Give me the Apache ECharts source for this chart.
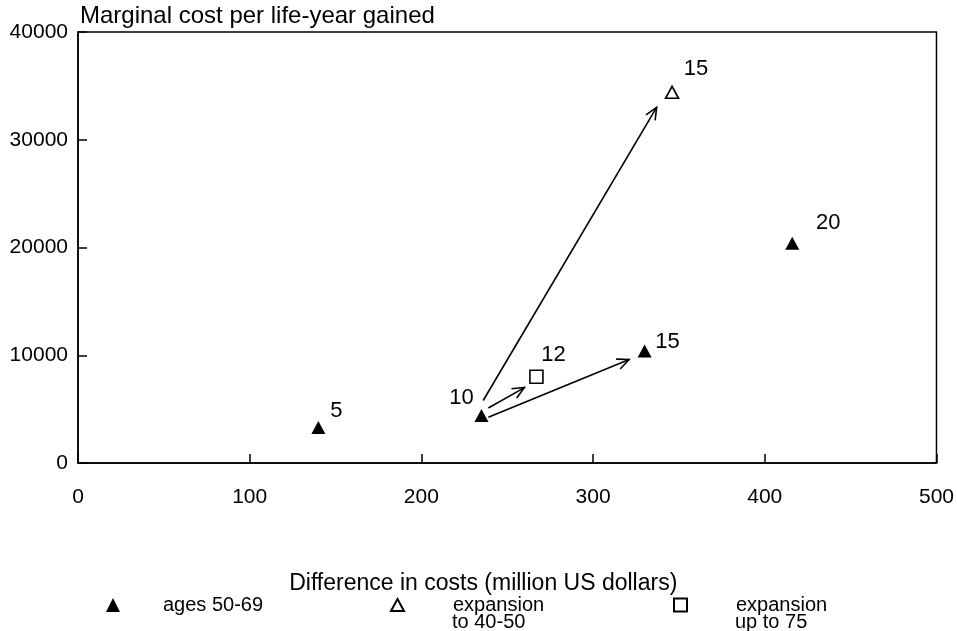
<!DOCTYPE html>
<html>
<head>
<meta charset="utf-8">
<style>
  html, body { margin: 0; padding: 0; background: #fff; }
  #chart { width: 957px; height: 631px; }
</style>
<script src="https://cdn.jsdelivr.net/npm/echarts@6/dist/echarts.min.js"></script>
</head>
<body>
<div id="chart"></div>
<script>
// data
var agesX = [140, 235, 330, 416];
var agesY = [3300, 4400, 10400, 20400];
var agesLabels = ["5", "10", "15", "20"];

var expYoungX = [346];
var expYoungY = [34400];
var expYoungLabels = ["15"];

var expOldX = [267];
var expOldY = [8000];
var expOldLabels = ["12"];

// arrows: [fromX, fromY, toX, toY]
var arrowsFrom = [[236, 5800], [239, 5100], [239, 4250]];
var arrowsTo = [[337, 33000], [260, 7000], [321, 9600]];

var xTicks = [0, 100, 200, 300, 400, 500];
var yTicks = [0, 10000, 20000, 30000, 40000];

(function () {
    var font = "Liberation Sans";
    var myChart = echarts.init(document.getElementById("chart"));

    // label offsets (px from marker centre)
    var agesOffsets = [[18, -17], [-20, -18], [23, -9], [36, -20]];
    var youngOffsets = [[24, -23]];
    var oldOffsets = [[17, -22]];

    function points(xs, ys, labels, offsets) {
        return xs.map(function (x, i) {
            return {
                value: [x, ys[i]],
                label: { formatter: labels[i], offset: offsets[i] }
            };
        });
    }

    var arrowData = arrowsFrom.map(function (f, i) {
        return [f[0], f[1], arrowsTo[i][0], arrowsTo[i][1]];
    });

    var pointLabel = {
        show: true,
        position: "inside",
        color: "#000",
        fontFamily: font,
        fontSize: 22
    };

    var legendText = { fontSize: 20, color: "#000", fontFamily: font };

    var option = {
        animation: false,
        backgroundColor: "#fff",
        textStyle: { fontFamily: font, color: "#000" },
        grid: {
            left: 78,
            right: 20,
            top: 32,
            bottom: 168,
            show: true,
            borderColor: "#000",
            borderWidth: 1.5
        },
        legend: [
            {
                left: 101,
                top: 590,
                data: ["ages 50-69"],
                itemWidth: 14,
                itemHeight: 14,
                selectedMode: false,
                textStyle: Object.assign({ padding: [0, 0, 0, 38] }, legendText)
            },
            {
                left: 385,
                top: 590,
                data: ["expansion to 40-50"],
                itemWidth: 13,
                itemHeight: 12,
                selectedMode: false,
                formatter: function () { return "expansion"; },
                textStyle: Object.assign({ padding: [0, 0, 0, 44] }, legendText)
            },
            {
                left: 668,
                top: 590,
                data: ["expansion up to 75"],
                itemWidth: 13,
                itemHeight: 13,
                selectedMode: false,
                formatter: function () { return "expansion"; },
                textStyle: Object.assign({ padding: [0, 0, 0, 44] }, legendText)
            }
        ],
        graphic: [
            { type: "text", left: 452, top: 612, style: { text: "to 40-50", fontFamily: font, fontSize: 20, fill: "#000" } },
            { type: "text", left: 735, top: 612, style: { text: "up to 75", fontFamily: font, fontSize: 20, fill: "#000" } }
        ],
        xAxis: {
            type: "value",
            min: xTicks[0],
            max: xTicks[xTicks.length - 1],
            interval: 100,
            name: "Difference in costs (million US dollars)",
            nameLocation: "middle",
            nameGap: 109,
            nameTextStyle: { fontSize: 23, color: "#000", fontFamily: font, padding: [0, 48, 0, 0] },
            axisLine: { lineStyle: { color: "#000", width: 1.5 } },
            axisTick: { inside: true, length: 9, lineStyle: { color: "#000", width: 1.5 } },
            axisLabel: { fontSize: 21, color: "#000", margin: 24, fontFamily: font },
            splitLine: { show: false }
        },
        yAxis: {
            type: "value",
            min: yTicks[0],
            max: yTicks[yTicks.length - 1],
            interval: 10000,
            name: "Marginal cost per life-year gained",
            nameLocation: "end",
            nameGap: 4,
            nameTextStyle: { fontSize: 24, color: "#000", align: "left", fontFamily: font, padding: [0, 0, 0, 2] },
            axisLine: { lineStyle: { color: "#000", width: 1.5 } },
            axisTick: { inside: true, length: 9, lineStyle: { color: "#000", width: 1.5 } },
            axisLabel: {
                fontSize: 21, color: "#000", margin: 10, fontFamily: font,
                formatter: function (v) { return String(v); }
            },
            splitLine: { show: false }
        },
        series: [
            {
                name: "ages 50-69",
                type: "scatter",
                symbol: "triangle",
                symbolSize: [14, 13],
                itemStyle: { color: "#000", opacity: 1 },
                label: pointLabel,
                data: points(agesX, agesY, agesLabels, agesOffsets)
            },
            {
                name: "expansion to 40-50",
                type: "scatter",
                symbol: "triangle",
                symbolSize: [13, 12],
                itemStyle: { color: "#fff", borderColor: "#000", borderWidth: 1.6, opacity: 1 },
                label: pointLabel,
                data: points(expYoungX, expYoungY, expYoungLabels, youngOffsets)
            },
            {
                name: "expansion up to 75",
                type: "scatter",
                symbol: "rect",
                symbolSize: 13,
                itemStyle: { color: "#fff", borderColor: "#000", borderWidth: 1.6, opacity: 1 },
                label: pointLabel,
                data: points(expOldX, expOldY, expOldLabels, oldOffsets)
            },
            {
                // open-headed arrows
                type: "custom",
                silent: true,
                encode: { x: [0, 2], y: [1, 3] },
                renderItem: function (params, api) {
                    var p0 = api.coord([api.value(0), api.value(1)]);
                    var p1 = api.coord([api.value(2), api.value(3)]);
                    var ang = Math.atan2(p1[1] - p0[1], p1[0] - p0[0]);
                    var len = 13, spread = 0.42;
                    var h1 = [p1[0] - len * Math.cos(ang - spread), p1[1] - len * Math.sin(ang - spread)];
                    var h2 = [p1[0] - len * Math.cos(ang + spread), p1[1] - len * Math.sin(ang + spread)];
                    var st = { stroke: "#000", lineWidth: 1.6, fill: null };
                    return {
                        type: "group",
                        children: [
                            { type: "line", shape: { x1: p0[0], y1: p0[1], x2: p1[0], y2: p1[1] }, style: st },
                            { type: "polyline", shape: { points: [h1, p1, h2] }, style: st }
                        ]
                    };
                },
                data: arrowData,
                z: 1
            }
        ]
    };
    myChart.setOption(option);
})();
</script>
</body>
</html>
